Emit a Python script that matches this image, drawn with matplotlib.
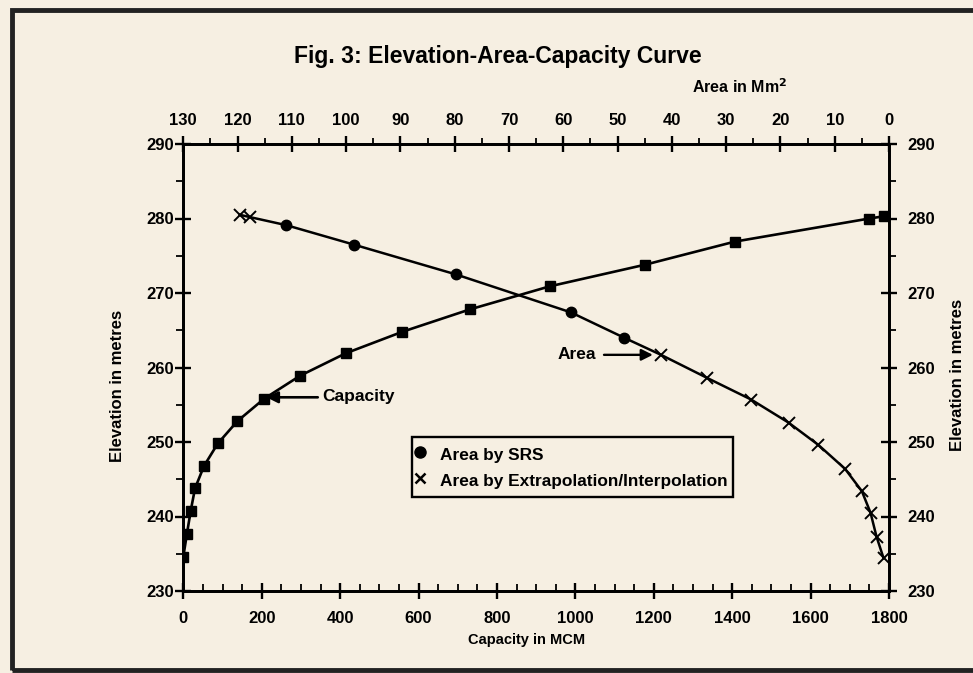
import matplotlib
matplotlib.use("Agg")
import matplotlib.pyplot as plt
from matplotlib.lines import Line2D
from matplotlib.patches import Rectangle
from matplotlib.ticker import MultipleLocator

plt.rcParams['font.family'] = ['Liberation Sans', 'DejaVu Sans']
plt.rcParams['font.weight'] = 'bold'

BG = '#f6efe2'

# Capacity curve (Capacity in MCM vs elevation)
cap_elev = [234.6, 237.6, 240.8, 243.8, 246.8, 249.8, 252.8, 255.8, 258.9,
            261.9, 264.8, 267.8, 270.9, 273.8, 276.9, 280.0, 280.3]
cap_mcm = [0, 9, 19, 30, 53, 88, 138, 206, 298,
           414, 559, 731, 935, 1178, 1407, 1750, 1787]

# Area by SRS (circles)
srs_elev = [279.1, 276.5, 272.5, 267.4, 264.0]
srs_area = [111.0, 98.6, 79.8, 58.6, 48.8]

# Area by extrapolation / interpolation (x markers)
ext_elev = [280.5, 280.2, 261.7, 258.6, 255.7, 252.6, 249.6, 246.4,
            243.4, 240.5, 237.3, 234.4]
ext_area = [119.6, 117.8, 42.0, 33.5, 25.4, 18.5, 13.0, 8.1,
            5.0, 3.4, 2.3, 1.0]

cap_ticks = [0, 200, 400, 600, 800, 1000, 1200, 1400, 1600, 1800]
area_ticks = [130, 120, 110, 100, 90, 80, 70, 60, 50, 40, 30, 20, 10, 0]
elev_ticks = [230, 240, 250, 260, 270, 280, 290]

TICK_FS = 12

fig = plt.figure(figsize=(9.73, 6.73), dpi=100, facecolor=BG)
ax = fig.add_axes([183.3 / 973, (673 - 591) / 673, 705.7 / 973, 447 / 673])
ax.set_facecolor(BG)

# border frame of the figure
fig.patches.append(Rectangle((12 / 973, 3 / 673), 1.2, 660 / 673,
                             transform=fig.transFigure, fill=False,
                             edgecolor='#222222', linewidth=3.5))

# capacity line
ax.plot(cap_mcm, cap_elev, color='black', lw=1.9, marker='s', ms=6.5,
        mfc='black', mec='black', zorder=3)
ax.set_xlim(0, 1800)
ax.set_ylim(230, 290)
ax.set_xticks(cap_ticks)
ax.xaxis.set_minor_locator(MultipleLocator(50))
ax.set_yticks(elev_ticks)
ax.yaxis.set_minor_locator(MultipleLocator(5))
for s in ax.spines.values():
    s.set_linewidth(1.9)
ax.tick_params(axis='both', which='major', direction='inout', length=11,
               width=1.7, labelsize=TICK_FS)
ax.tick_params(axis='x', which='minor', direction='in', length=5, width=1.3)
ax.tick_params(axis='y', which='minor', direction='out', length=5, width=1.3)
ax.tick_params(axis='y', which='both', right=False, labelright=False)
ax.tick_params(axis='y', which='major', pad=1.5)
ax.tick_params(axis='x', which='major', pad=9)
for lab in ax.get_xticklabels() + ax.get_yticklabels():
    lab.set_fontweight('bold')

# right elevation axis (same scale)
ax3 = ax.twinx()
ax3.set_ylim(230, 290)
ax3.set_yticks(elev_ticks)
ax3.yaxis.set_minor_locator(MultipleLocator(5))
ax3.tick_params(axis='y', which='major', direction='inout', length=11,
                width=1.7, labelsize=TICK_FS, pad=8)
ax3.tick_params(axis='y', which='minor', direction='out', length=5, width=1.3)
for lab in ax3.get_yticklabels():
    lab.set_fontweight('bold')
for s in ax3.spines.values():
    s.set_linewidth(1.9)

fig.text(527 / 973, (673 - 640) / 673, 'Capacity in MCM', ha='center',
         va='center', fontsize=10.5, fontweight='bold')
fig.text(117.5 / 973, (673 - 386) / 673, 'Elevation in metres', rotation=90,
         ha='center', va='center', fontsize=12, fontweight='bold')
fig.text(958 / 973, (673 - 375) / 673, 'Elevation in metres', rotation=90,
         ha='center', va='center', fontsize=12, fontweight='bold')

# area axis (top)
ax2 = ax.twiny()
ax2.set_xlim(130, 0)
ax2.set_xticks(area_ticks)
ax2.xaxis.set_minor_locator(MultipleLocator(5))
ax2.tick_params(axis='x', which='major', direction='inout', length=11,
                width=1.7, labelsize=TICK_FS, pad=6)
ax2.tick_params(axis='x', which='minor', direction='out', length=4, width=1.3)
for lab in ax2.get_xticklabels():
    lab.set_fontweight('bold')
for s in ax2.spines.values():
    s.set_linewidth(1.9)

all_elev = srs_elev + ext_elev
all_area = srs_area + ext_area
order = sorted(range(len(all_elev)), key=lambda i: all_elev[i])
ax2.plot([all_area[i] for i in order], [all_elev[i] for i in order],
         color='black', lw=1.8, zorder=3)
ax2.plot(srs_area, srs_elev, ls='none', marker='o', ms=7.5, color='black',
         zorder=4)
ax2.plot(ext_area, ext_elev, ls='none', marker='x', ms=8, mew=1.4,
         color='black', zorder=4)

fig.text(740 / 973, (673 - 87) / 673, 'Area in Mm$^\\mathbf{2}$', ha='center',
         va='center', fontsize=11.5, fontweight='bold')
fig.text(498 / 973, (673 - 57) / 673, 'Fig. 3: Elevation-Area-Capacity Curve',
         ha='center', va='center', fontsize=16.5, fontweight='bold')

# annotations
ax.annotate('', xy=(212, 256), xytext=(343, 256),
            arrowprops=dict(arrowstyle='-|>', color='black', lw=1.9,
                            mutation_scale=17, shrinkA=0, shrinkB=0))
ax.text(354, 256.1, 'Capacity', ha='left', va='center', fontsize=12.5,
        fontweight='bold')
ax2.annotate('', xy=(43.5, 261.7), xytext=(52.5, 261.7),
             arrowprops=dict(arrowstyle='-|>', color='black', lw=1.7,
                             mutation_scale=17, shrinkA=0, shrinkB=0))
ax2.text(54.0, 261.8, 'Area', ha='right', va='center', fontsize=12.5,
         fontweight='bold')

# legend box drawn separately, legend entries inside without frame
ax2.add_patch(Rectangle((0.3241, 0.2103), 0.4549, 0.1342,
                        transform=ax2.transAxes, facecolor=BG,
                        edgecolor='black', linewidth=1.7, zorder=4.8))
handles = [Line2D([], [], ls='none', marker='o', ms=8, color='black'),
           Line2D([], [], ls='none', marker='x', ms=7, mew=1.8, color='black')]
leg = ax2.legend(handles, ['Area by SRS', 'Area by Extrapolation/Interpolation'],
                 loc='upper left', bbox_to_anchor=(0.324, 0.334),
                 frameon=False, prop={'weight': 'bold', 'size': 12.4},
                 handlelength=0.6, handletextpad=0.9, borderpad=0.15,
                 labelspacing=0.27, borderaxespad=0, handleheight=1.5)

fig.savefig('out.png', dpi=100, facecolor=BG)
